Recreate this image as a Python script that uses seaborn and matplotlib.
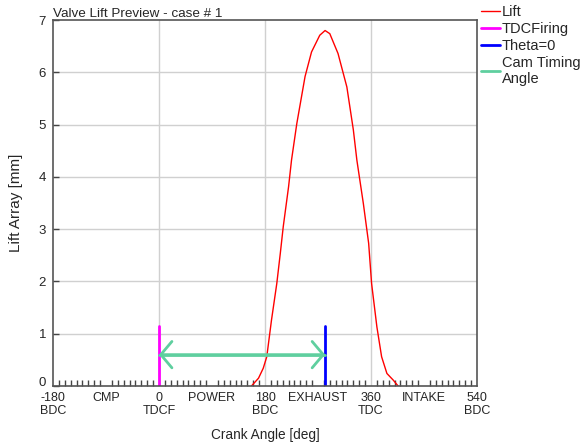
import numpy as np
import pandas as pd
import matplotlib
matplotlib.use("Agg")
import matplotlib.pyplot as plt
import matplotlib.transforms as mtransforms
import seaborn as sns
from matplotlib.ticker import MultipleLocator

# --- data ---
crank_angle = [157, 169, 177, 183, 191, 200, 206, 211, 220, 225, 234, 248, 259, 273,
               282, 290, 304, 319, 330, 336, 347, 356, 361, 370, 378, 387, 398, 406]
lift_mm = [0.0, 0.15, 0.34, 0.56, 1.26, 1.96, 2.54, 3.05, 3.81, 4.32, 5.02, 5.92, 6.39, 6.71,
           6.8, 6.74, 6.36, 5.72, 4.9, 4.32, 3.49, 2.73, 1.96, 1.13, 0.56, 0.24, 0.11, 0.0]

tdc_firing = 0
theta_zero = 282
marker_height = 1.15
cam_arrow_y = 0.6

tick_pos = [-180, -90, 0, 90, 180, 270, 360, 450, 540]
tick_labels = ["-180\nBDC", "CMP", "0\nTDCF", "POWER", "180\nBDC",
               "EXHAUST", "360\nTDC", "INTAKE", "540\nBDC"]

sns.set_theme(style="white")
plt.rcParams['font.family'] = ['Liberation Sans', 'DejaVu Sans']
plt.rcParams['font.size'] = 9

df = pd.DataFrame({"Crank Angle [deg]": crank_angle, "Lift Array [mm]": lift_mm})

fig = plt.figure(figsize=(5.85, 4.46), dpi=100)
ax = fig.add_axes([0.0906, 0.1345, 0.7248, 0.8205])

for xv in [0, 180, 360]:
    ax.axvline(xv, color="#d0d0d0", lw=1, zorder=0)
for yv in range(1, 7):
    ax.axhline(yv, color="#d0d0d0", lw=1, zorder=0)

sns.lineplot(data=df, x="Crank Angle [deg]", y="Lift Array [mm]", ax=ax,
             color="red", lw=1, label="Lift")
ax.plot([tdc_firing, tdc_firing], [0, marker_height], color="#ff00ff", lw=2, label="TDCFiring")
ax.plot([theta_zero, theta_zero], [0, marker_height], color="#0000ff", lw=2, label="Theta=0")
ax.plot([tdc_firing, theta_zero], [cam_arrow_y, cam_arrow_y], color="#5fcf9f", lw=2,
        label="Cam Timing\nAngle")
ax.annotate("", xy=(tdc_firing, cam_arrow_y), xytext=(theta_zero, cam_arrow_y),
            arrowprops=dict(arrowstyle="<->,head_length=0.8,head_width=0.95",
                            mutation_scale=10, color="#5fcf9f", lw=2,
                            shrinkA=0, shrinkB=0))

ax.set_xlim(-180, 540)
ax.set_ylim(0, 7)
ax.set_xticks(tick_pos)
ax.set_xticklabels(tick_labels, fontsize=9)
ax.xaxis.set_minor_locator(MultipleLocator(10))
ax.tick_params(axis="x", which="both", direction="in", length=4, width=1,
               color="#444444", bottom=True, pad=4)
ax.tick_params(axis="x", which="major", length=0)
ax.tick_params(axis="y", direction="in", length=4, width=1, color="#444444", left=True,
               pad=5, labelsize=9.5)
ax.set_yticks(range(0, 8))
for lbl in ax.get_yticklabels():
    lbl.set_verticalalignment("center_baseline")
# lift the bottom "0" a touch so it clears the -180 label, as in the original
zero_lbl = ax.get_yticklabels()[0]
zero_lbl.set_transform(zero_lbl.get_transform() +
                       mtransforms.ScaledTranslation(0, 3 / 72, fig.dpi_scale_trans))
for sp in ax.spines.values():
    sp.set_color("#555555")
    sp.set_linewidth(1.2)

ax.set_xlabel("Crank Angle [deg]", fontsize=9.8, labelpad=8)
ax.set_ylabel("Lift Array [mm]", fontsize=11, labelpad=11)
ax.set_title("Valve Lift Preview - case # 1", loc="left", fontsize=9.7, pad=2)

leg = ax.legend(loc="upper left", bbox_to_anchor=(0.995, 1.057), frameon=False,
                handlelength=1.3, handletextpad=0.15, borderaxespad=0.0,
                labelspacing=0.2, fontsize=10.5)

fig.savefig("out.png", dpi=100)
